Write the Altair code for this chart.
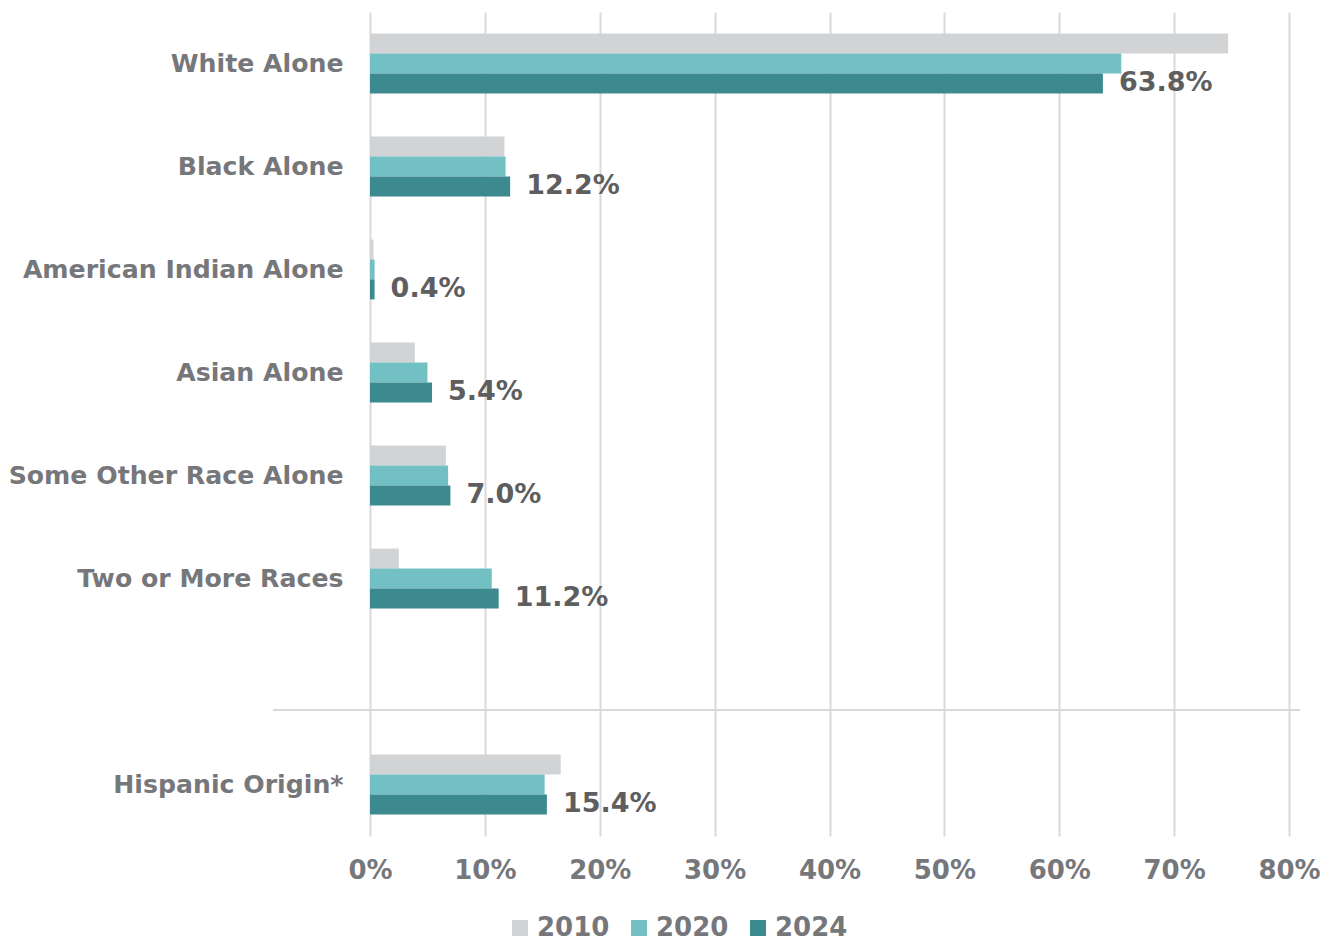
import altair as alt
import pandas as pd

# Share of population by race / Hispanic origin
categories = [
    "White Alone",
    "Black Alone",
    "American Indian Alone",
    "Asian Alone",
    "Some Other Race Alone",
    "Two or More Races",
    " ",
    "Hispanic Origin*",
]
years = ["2010", "2020", "2024"]
share_2010 = [74.7, 11.7, 0.3, 3.9, 6.6, 2.5, None, 16.6]
share_2020 = [65.4, 11.8, 0.4, 5.0, 6.8, 10.6, None, 15.2]
share_2024 = [63.8, 12.2, 0.4, 5.4, 7.0, 11.2, None, 15.4]
year_colors = ["#d2d3d5", "#72bfc4", "#3c8a8f"]
x_ticks = [0, 10, 20, 30, 40, 50, 60, 70, 80]

rows = []
for year, series in zip(years, [share_2010, share_2020, share_2024]):
    for cat, val in zip(categories, series):
        if val is not None:
            rows.append({"category": cat, "year": year, "share": val})
df = pd.DataFrame(rows)

FONT = "DejaVu Sans"
LABEL_GRAY = "#76777b"
VALUE_GRAY = "#5e5e60"

y_enc = alt.Y(
    "category:N",
    sort=categories,
    scale=alt.Scale(domain=categories, paddingInner=0.42, paddingOuter=0.21),
    axis=alt.Axis(
        title=None, domain=False, ticks=False, labelPadding=27,
        labelFont=FONT, labelFontSize=25.2, labelFontWeight="bold",
        labelColor=LABEL_GRAY, labelLimit=400,
    ),
)
yoff_enc = alt.YOffset(
    "year:N", sort=years,
    scale=alt.Scale(domain=years, paddingInner=0, paddingOuter=0),
)
x_scale = alt.Scale(domain=[0, 80], nice=False, zero=True)

bars = alt.Chart(df).mark_bar(size=20).encode(
    x=alt.X(
        "share:Q", scale=x_scale,
        axis=alt.Axis(
            title=None, values=x_ticks, labelExpr="datum.value + '%'",
            domain=False, ticks=False, labelPadding=21, labelFlush=False,
            grid=True, gridColor="#d9d9d9", gridWidth=2,
            labelFont=FONT, labelFontSize=26, labelFontWeight="bold",
            labelColor=LABEL_GRAY,
        ),
    ),
    y=y_enc,
    yOffset=yoff_enc,
    color=alt.Color(
        "year:N", sort=years,
        scale=alt.Scale(domain=years, range=year_colors),
        legend=alt.Legend(
            title=None, orient="none", direction="horizontal",
            legendX=137, legendY=903, padding=0,
            symbolType="square", symbolSize=256, symbolStrokeWidth=0,
            symbolOpacity=1, labelFont=FONT, labelFontSize=26,
            labelFontWeight="bold", labelColor=LABEL_GRAY,
            labelOffset=4, columnPadding=16,
        ),
    ),
)

labels = alt.Chart(df[df["year"] == "2024"]).transform_calculate(
    share_label="format(datum.share, '.1f') + '%'"
).mark_text(
    align="left", baseline="middle", dx=16, font=FONT,
    fontSize=27, fontWeight="bold", color=VALUE_GRAY,
).encode(
    x=alt.X("share:Q", scale=x_scale),
    y=alt.Y("category:N", sort=categories),
    yOffset=yoff_enc,
    text="share_label:N",
)

# horizontal divider between race groups and Hispanic origin
divider = alt.Chart(pd.DataFrame({"d": [0]})).mark_rule(
    color="#d9d9d9", strokeWidth=2
).encode(
    x=alt.value(-97), x2=alt.value(930), y=alt.value(698)
)

chart = alt.layer(bars, labels, divider).properties(
    width=919, height=824,
    padding={"left": 370, "top": 12, "right": 46, "bottom": 105},
    autosize=alt.AutoSizeParams(type="none"),
    background="white",
).configure_view(stroke=None)

chart.save("out.html", embed_options={"renderer": "svg", "actions": False})
